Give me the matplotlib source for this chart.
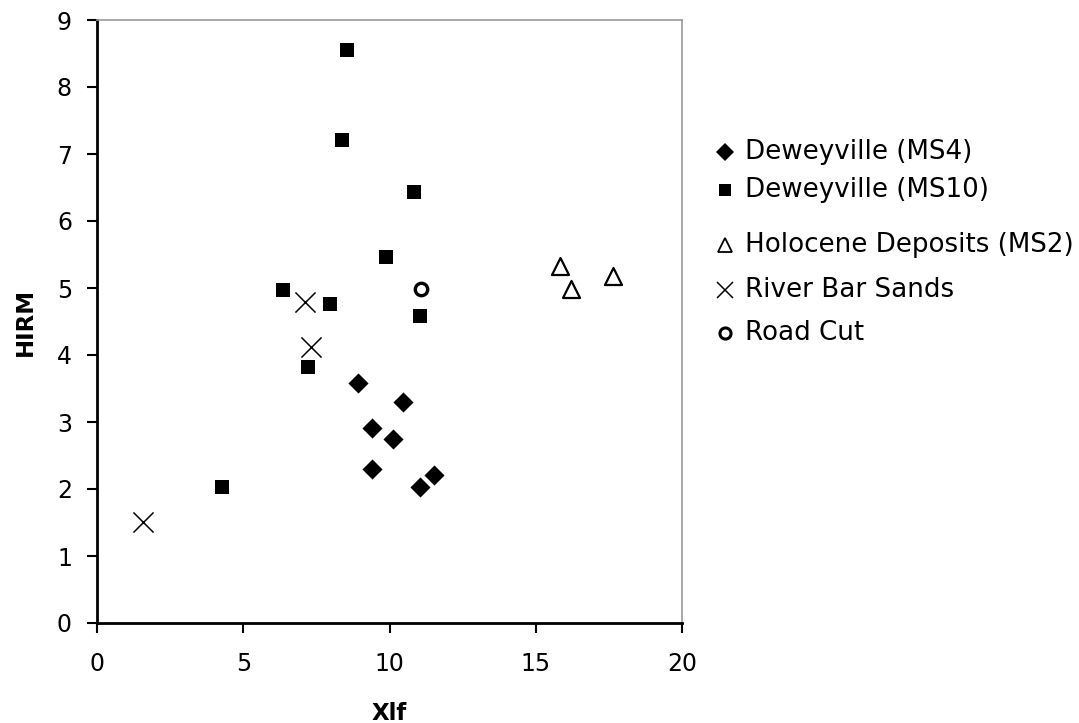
import matplotlib
matplotlib.use("Agg")
import matplotlib.pyplot as plt
from matplotlib.lines import Line2D

plt.rcParams['font.family'] = ['DejaVu Sans']

ms4_x = [8.92, 10.46, 9.40, 10.12, 9.40, 11.04, 11.52]
ms4_y = [3.58, 3.30, 2.91, 2.75, 2.30, 2.03, 2.21]

ms10_x = [8.55, 8.38, 10.84, 9.88, 6.36, 7.97, 11.04, 7.21, 4.27]
ms10_y = [8.55, 7.21, 6.43, 5.46, 4.97, 4.76, 4.58, 3.82, 2.03]

holo_x = [15.83, 16.21, 17.64]
holo_y = [5.33, 4.99, 5.18]

river_x = [7.11, 7.32, 1.57]
river_y = [4.79, 4.12, 1.51]

road_x = [11.08]
road_y = [4.99]

labels = ["Deweyville (MS4)", "Deweyville (MS10)", "Holocene Deposits (MS2)",
          "River Bar Sands", "Road Cut"]
x_ticks = [0, 5, 10, 15, 20]
y_ticks = list(range(0, 10))

W, H = 1079, 723
fig = plt.figure(figsize=(W / 100, H / 100), dpi=100)
ax = fig.add_axes([97 / W, 1 - 623 / H, 585 / W, 603 / H])

ax.scatter(ms4_x, ms4_y, marker='D', s=105, c='black', linewidths=0, zorder=3)
ax.scatter(ms10_x, ms10_y, marker='s', s=95, c='black', linewidths=0, zorder=3)
ax.scatter(holo_x, holo_y, marker='^', s=150, facecolors='white', edgecolors='black', linewidths=1.6, zorder=3)
ax.scatter(river_x, river_y, marker='x', s=210, c='black', linewidths=1.1, zorder=3)
ax.scatter(road_x, road_y, marker='o', s=80, facecolors='white', edgecolors='black', linewidths=2.4, zorder=3)

ax.set_xlim(0, 20)
ax.set_ylim(0, 9)
ax.set_xticks(x_ticks)
ax.set_yticks(y_ticks)
ax.tick_params(axis='both', direction='out', length=7, width=1.5, labelsize=17)
ax.tick_params(axis='y', pad=11)
ax.tick_params(axis='x', pad=14)
for s in ['left', 'bottom']:
    ax.spines[s].set_linewidth(2)
    ax.spines[s].set_color('black')
for s in ['top', 'right']:
    ax.spines[s].set_linewidth(1.2)
    ax.spines[s].set_color('#9a9a9a')

ax.set_xlabel("Xlf", fontsize=16.5, fontweight='bold')
ax.set_ylabel("HIRM", fontsize=16.5, fontweight='bold')
ax.xaxis.set_label_coords(0.5, (623 - 713) / 603)
ax.xaxis.label.set_va('center')
ax.yaxis.set_label_coords((25 - 97) / 585, 0.5)
ax.yaxis.label.set_va('center')

# legend (placed manually, outside the axes on the right)
handles = [
    dict(marker='D', color='black', markersize=9.5, markeredgewidth=0),
    dict(marker='s', color='black', markersize=8, markeredgewidth=0),
    dict(marker='^', markerfacecolor='white', markeredgecolor='black', markersize=10, markeredgewidth=1.3),
    dict(marker='x', color='black', markersize=11, markeredgewidth=1.1),
    dict(marker='o', markerfacecolor='white', markeredgecolor='black', markersize=8, markeredgewidth=2.2),
]
row_y = [152, 190, 245, 290, 333]
for lab, hd, yy in zip(labels, handles, row_y):
    fig.add_artist(Line2D([725 / W], [1 - yy / H], transform=fig.transFigure,
                          linestyle='none', **hd))
    fig.text(745 / W, 1 - yy / H, lab, fontsize=18.8, va='center', ha='left')

fig.savefig("out.png", dpi=100, facecolor='white')
